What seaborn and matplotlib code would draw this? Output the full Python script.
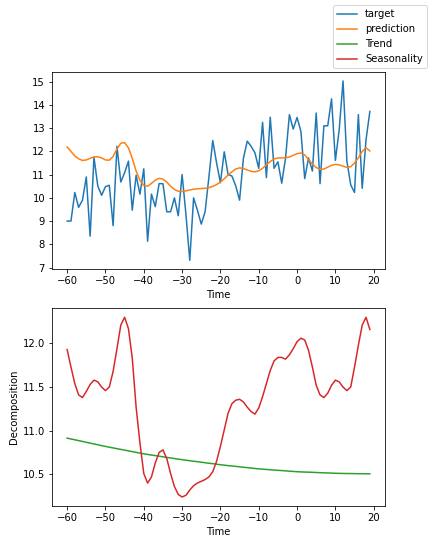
import numpy as np
import pandas as pd
import matplotlib
matplotlib.use("Agg")
import matplotlib.pyplot as plt
import seaborn as sns

# Sumbu waktu
time = list(range(-60, 20))

# Nilai target
target = [9.0, 9.0, 10.23, 9.59, 9.9, 10.9, 8.35, 11.75, 10.51, 10.11,
          10.48, 10.54, 8.8, 12.22, 10.68, 11.08, 11.58, 9.47, 10.97, 10.16,
          11.25, 8.13, 10.16, 9.62, 10.61, 10.61, 9.4, 9.4, 10.0, 9.23,
          11.0, 9.3, 7.31, 10.0, 9.47, 8.87, 9.4, 10.9, 12.47, 11.5,
          10.65, 11.98, 11.0, 10.94, 10.51, 9.9, 11.7, 12.44, 12.22, 11.94,
          11.27, 13.25, 10.87, 13.47, 11.27, 11.55, 10.63, 11.72, 13.58, 12.96,
          13.46, 12.86, 10.83, 11.72, 11.15, 13.65, 10.61, 13.1, 13.1, 14.26,
          11.61, 12.93, 15.03, 11.58, 10.56, 10.23, 13.58, 10.41, 12.5, 13.72]

# Prediksi model
prediction = [12.19, 12.0, 11.8, 11.68, 11.61, 11.63, 11.7, 11.76, 11.77, 11.72,
              11.63, 11.62, 11.78, 12.1, 12.35, 12.38, 12.15, 11.7, 11.15, 10.75,
              10.53, 10.5, 10.62, 10.76, 10.84, 10.8, 10.68, 10.5, 10.36, 10.28,
              10.27, 10.3, 10.34, 10.37, 10.39, 10.4, 10.41, 10.44, 10.49, 10.57,
              10.68, 10.82, 10.98, 11.12, 11.24, 11.29, 11.26, 11.2, 11.14, 11.12,
              11.16, 11.27, 11.42, 11.56, 11.67, 11.72, 11.72, 11.72, 11.76, 11.83,
              11.9, 11.93, 11.85, 11.65, 11.45, 11.3, 11.23, 11.24, 11.32, 11.4,
              11.44, 11.42, 11.36, 11.31, 11.34, 11.5, 11.72, 12.0, 12.15, 12.02]

# Komponen trend
trend = [10.915, 10.905, 10.896, 10.886, 10.877, 10.867, 10.858, 10.848, 10.839, 10.829,
         10.820, 10.811, 10.803, 10.794, 10.786, 10.777, 10.769, 10.760, 10.752, 10.743,
         10.735, 10.728, 10.721, 10.715, 10.708, 10.701, 10.694, 10.688, 10.681, 10.674,
         10.668, 10.662, 10.656, 10.650, 10.645, 10.639, 10.633, 10.627, 10.622, 10.616,
         10.610, 10.605, 10.600, 10.596, 10.591, 10.586, 10.581, 10.577, 10.572, 10.567,
         10.563, 10.559, 10.556, 10.552, 10.549, 10.546, 10.543, 10.540, 10.536, 10.533,
         10.530, 10.528, 10.526, 10.525, 10.523, 10.521, 10.519, 10.517, 10.516, 10.514,
         10.512, 10.511, 10.510, 10.509, 10.509, 10.508, 10.507, 10.507, 10.506, 10.506]

# Komponen musiman
seasonality = [11.93, 11.73, 11.54, 11.41, 11.38, 11.45, 11.53, 11.58, 11.56, 11.5,
               11.46, 11.5, 11.68, 11.94, 12.21, 12.3, 12.17, 11.83, 11.27, 10.86,
               10.51, 10.4, 10.47, 10.63, 10.75, 10.78, 10.68, 10.51, 10.36, 10.27,
               10.24, 10.26, 10.32, 10.37, 10.4, 10.42, 10.44, 10.47, 10.53, 10.65,
               10.82, 11.01, 11.2, 11.31, 11.35, 11.36, 11.33, 11.27, 11.22, 11.19,
               11.26, 11.39, 11.54, 11.69, 11.8, 11.84, 11.84, 11.82, 11.87, 11.94,
               12.02, 12.06, 12.04, 11.92, 11.73, 11.52, 11.41, 11.38, 11.43, 11.52,
               11.58, 11.56, 11.5, 11.46, 11.5, 11.73, 11.98, 12.21, 12.3, 12.16]

df = pd.DataFrame({"Time": time, "target": target, "prediction": prediction,
                   "Trend": trend, "Seasonality": seasonality})

W, H = 430, 544
fig = plt.figure(figsize=(W / 72, H / 72), dpi=72)
ax1 = fig.add_axes([52 / W, 1 - 269.3 / H, 333 / W, 197.3 / H])
ax2 = fig.add_axes([52 / W, 1 - 506 / H, 333 / W, 197.7 / H])

colors = sns.color_palette("tab10")
sns.lineplot(data=df, x="Time", y="target", ax=ax1, color=colors[0], label="target", legend=False)
sns.lineplot(data=df, x="Time", y="prediction", ax=ax1, color=colors[1], label="prediction", legend=False)
ax1.set_ylabel("")
ax1.set_xlabel("Time")

sns.lineplot(data=df, x="Time", y="Trend", ax=ax2, color=colors[2], label="Trend", legend=False)
sns.lineplot(data=df, x="Time", y="Seasonality", ax=ax2, color=colors[3], label="Seasonality", legend=False)
ax2.set_ylabel("Decomposition")
ax2.set_xlabel("Time")

# Legenda gabungan di pojok kanan atas figure
h1, l1 = ax1.get_legend_handles_labels()
h2, l2 = ax2.get_legend_handles_labels()
fig.legend(h1 + h2, l1 + l2, loc="upper right",
           bbox_to_anchor=(426.7 / W, 1 - 5.3 / H), borderaxespad=0)

fig.savefig("out.png", dpi=72)
plt.close(fig)
